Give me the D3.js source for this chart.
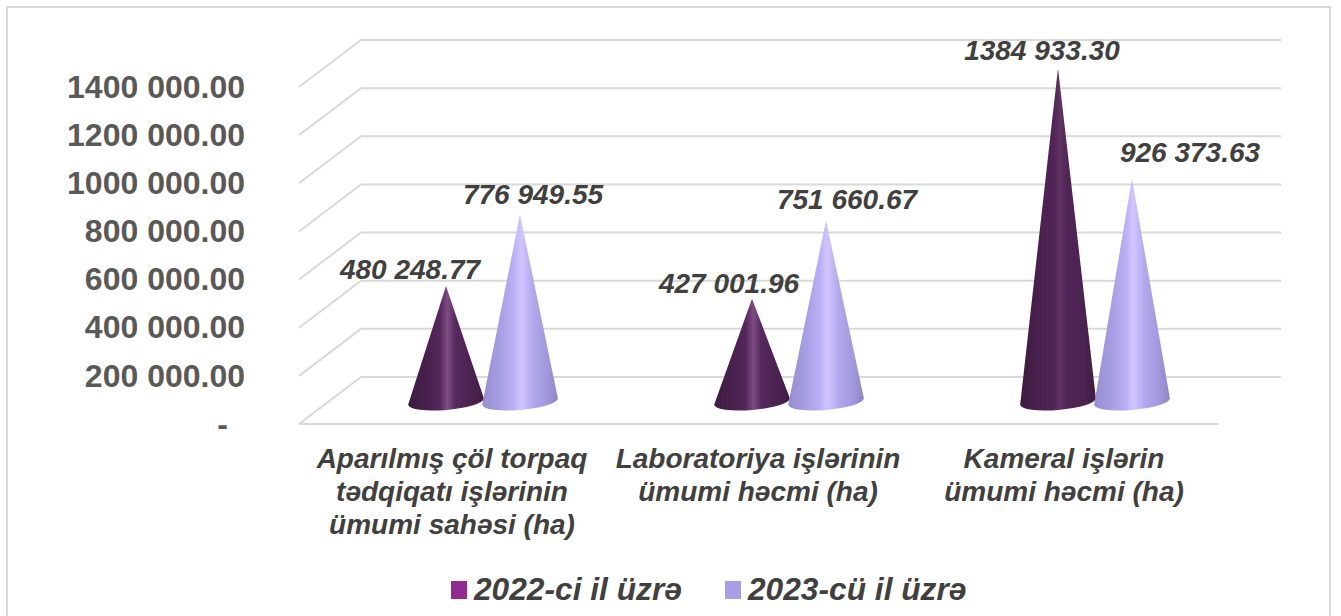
<!DOCTYPE html>
<html><head><meta charset="utf-8">
<script src="https://d3js.org/d3.v7.min.js"></script>
<style>html,body{margin:0;padding:0;background:#fff;overflow:hidden}svg{display:block}
text{font-family:"Liberation Sans",Arial,sans-serif;font-weight:bold}</style></head>
<body><svg id="c" width="1341" height="616"></svg>
<script>
const categoryLines = [
  ["Aparılmış çöl torpaq","tədqiqatı işlərinin","ümumi sahəsi (ha)"],
  ["Laboratoriya işlərinin","ümumi həcmi (ha)"],
  ["Kameral işlərin","ümumi həcmi (ha)"]
];
const categories = ["A","L","K"];
const seriesNames = ["2022-ci il üzrə","2023-cü il üzrə"];
const values2022 = [480248.77, 427001.96, 1384933.30];
const values2023 = [776949.55, 751660.67, 926373.63];
const labels2022 = ["480 248.77","427 001.96","1384 933.30"];
const labels2023 = ["776 949.55","751 660.67","926 373.63"];
const tickValues = [0,200000,400000,600000,800000,1000000,1200000,1400000];
const tickLabels = ["-","200 000.00","400 000.00","600 000.00","800 000.00","1000 000.00","1200 000.00","1400 000.00"];

const svg = d3.select("#c");
// Layout constants
const backX0=361, backX1=1281, depthX=-62, depthY=47;
const y = d3.scaleLinear().domain([0,1400000]).range([377,40]);
const x0 = d3.scaleBand().domain(categories).range([330,1248]);
const x1 = d3.scaleBand().domain([0,1]).range([-74,74]);
const baseOffset = 24.5, rx = 38, ry = 8.5, tilt = -5;

svg.append("rect").attr("x",7).attr("y",7).attr("width",1323).attr("height",640)
  .attr("fill","#fff").attr("stroke","#d9d9d9").attr("stroke-width",2);

const defs = svg.append("defs");
function grad(id,stops){
  const g=defs.append("linearGradient").attr("id",id).attr("x1",0).attr("x2",1).attr("y1",0).attr("y2",0);
  stops.forEach(s=>g.append("stop").attr("offset",s[0]).attr("stop-color",s[1]));
}
grad("g0",[[0,"#3d1b40"],[0.3,"#4b2251"],[0.42,"#55285c"],[0.52,"#7d4c82"],[0.62,"#56295d"],[0.85,"#4a2250"],[1,"#3f1c42"]]);
grad("g0t",[[0,"#3d1b40"],[0.3,"#4b2251"],[0.44,"#4f2456"],[0.53,"#5f3464"],[0.62,"#4f2456"],[0.85,"#4a2250"],[1,"#3f1c42"]]);
grad("g1",[[0,"#968cd0"],[0.25,"#a99fe4"],[0.42,"#bcb0f5"],[0.52,"#d0c5ff"],[0.66,"#b4a9ee"],[0.85,"#a298dd"],[1,"#8f86c6"]]);

// Gridlines
const grid = svg.append("g").attr("stroke","#d9d9d9").attr("stroke-width",2).attr("fill","none");
tickValues.forEach(v=>{
  grid.append("path").attr("d",d3.line()([[backX0+depthX,y(v)+depthY],[backX0,y(v)],[backX1,y(v)]]));
});
grid.append("path").attr("d",d3.line()([[backX0+depthX,y(0)+depthY],[backX1+depthX,y(0)+depthY]]));

// Y axis (front plane)
const yFront = y.copy().range(y.range().map(d=>d+depthY-1));
const axis = d3.axisLeft(yFront).tickValues(tickValues).tickSize(0)
  .tickFormat((d,i)=>tickLabels[i]);
const ga = svg.append("g").attr("transform","translate(245,0)").call(axis);
ga.select(".domain").remove();
ga.selectAll("text").attr("x",0).attr("dy","0.35em").attr("text-anchor","end")
  .attr("fill","#595959").style("font-size","32px").style("font-family",'"Liberation Sans",Arial,sans-serif')
  .attr("dx",d=>d===0?-17:0);

// Cones
const c = Math.cos(tilt*Math.PI/180), s = Math.sin(tilt*Math.PI/180);
const series = [{v:values2022,l:labels2022,g:"g0"},{v:values2023,l:labels2023,g:"g1"}];
const offs = [[[-36,-17],[-23,-16],[-16,-18]],[[13,-20],[21,-21],[58,-26]]];
const coneTip = v => y(v)+baseOffset;
series.forEach((se,si)=>{
  categories.forEach((cat,i)=>{
    const cx = x0(cat)+x0.bandwidth()/2 + x1(si)+x1.bandwidth()/2;
    const tipY = coneTip(se.v[i]);
    const baseY = y(0)+baseOffset;
    const lx=cx-rx*c, ly=baseY-rx*s, rxx=cx+rx*c, ry2=baseY+rx*s;
    const d=`M${cx},${tipY}L${lx},${ly}A${rx},${ry},${tilt},0,0,${rxx},${ry2}Z`;
    const fill = (si===0 && i===2) ? "g0t" : se.g;
    svg.append("path").attr("d",d).attr("fill",`url(#${fill})`);
  });
});
series.forEach((se,si)=>{
  categories.forEach((cat,i)=>{
    const cx = x0(cat)+x0.bandwidth()/2 + x1(si)+x1.bandwidth()/2;
    svg.append("text").attr("x",cx+offs[si][i][0]).attr("y",coneTip(se.v[i])+offs[si][i][1])
      .attr("dy","0.35em").attr("text-anchor","middle").attr("fill","#404040")
      .attr("font-style","italic").style("font-size","28px").text(se.l[i]);
  });
});

// Category labels
categories.forEach((cat,i)=>{
  const t = svg.append("text").attr("text-anchor","middle").attr("fill","#404040")
    .attr("font-style","italic").style("font-size","28px");
  categoryLines[i].forEach((ln,j)=>{
    t.append("tspan").attr("x",x0(cat)+x0.bandwidth()/2-31).attr("y",468+j*33).text(ln);
  });
});

// Legend
const legendColors=["#922b8f","#a99ee6"], legendX=[449,723];
seriesNames.forEach((n,i)=>{
  svg.append("rect").attr("x",legendX[i]+2).attr("y",581).attr("width",16).attr("height",18).attr("fill",legendColors[i]);
  svg.append("text").attr("x",legendX[i]+25).attr("y",600).attr("fill","#404040")
    .attr("font-style","italic").style("font-size","31.7px").text(n);
});
</script></body></html>
